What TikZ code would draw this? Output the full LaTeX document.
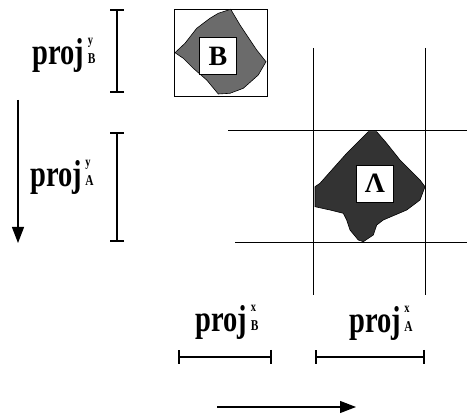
\documentclass[tikz,border=0pt]{standalone}
\usepackage{fontspec}
\setmainfont{Liberation Serif}
\usetikzlibrary{arrows.meta}
\newcommand{\pjlab}[2]{\scalebox{0.95}[1.25]{\bfseries\fontsize{30}{30}\selectfont proj\hspace{0.12em}\rlap{\raisebox{0.52em}{\fontsize{11}{11}\selectfont #1}}\raisebox{0.02em}{\fontsize{12}{12}\selectfont #2}}}
\begin{document}
\begin{tikzpicture}[x=1pt,y=-1pt,
  barline/.style={line width=1.6pt,{Bar[width=14pt,line width=1.6pt]}-{Bar[width=14pt,line width=1.6pt]}},
  gridline/.style={line width=1pt},
  axisarrow/.style={line width=1.2pt,-{Triangle[width=12pt,length=16pt]}},
  lbl/.style={inner sep=0pt},
  idbox/.style={draw,fill=white,line width=0.8pt,minimum size=37pt,inner sep=0pt,font=\bfseries\fontsize{28}{28}\selectfont},
  blob/.style={draw,line width=0.6pt}]
\useasboundingbox (0,0) rectangle (467,419);
% B region
\node[draw,line width=0.8pt,minimum width=93pt,minimum height=87pt,inner sep=0pt] (frameB) at (220.5,52.5) {};
\draw[blob,fill=black!58] (218.3,13.3) -- (230.7,9.3) -- (240,25) -- (250,40) -- (256.7,50) -- (266,61.7) -- (258.3,75) -- (243.3,88.3) -- (230,93.3) -- (218.3,94) -- (206.7,80) -- (193.3,68.3) -- (183.3,58.3) -- (175,52.7) -- (185,43.3) -- (196.7,28.3) -- (210,18.3) -- cycle;
\node[idbox] (boxB) at (218,56) {B};
% grid for A
\coordinate (v1t) at (313,48); \coordinate (v1b) at (313,295);
\coordinate (v2t) at (425,48); \coordinate (v2b) at (425,295);
\coordinate (h1l) at (228,131); \coordinate (h1r) at (467,131);
\coordinate (h2l) at (235,243); \coordinate (h2r) at (467,243);
\draw[gridline] (v1t) -- (v1b);
\draw[gridline] (v2t) -- (v2b);
\draw[gridline] (h1l) -- (h1r);
\draw[gridline] (h2l) -- (h2r);
\draw[blob,fill=black!80] (368.3,131.7) -- (376.7,131.7) -- (386.7,143.3) -- (400,160) -- (420,180) -- (425,186.7) -- (420,200) -- (406.7,210) -- (383.3,220) -- (376.7,225) -- (373.3,235) -- (363.3,241.7) -- (358.3,240) -- (350,230) -- (346.7,220) -- (343.3,213.3) -- (330,210) -- (315,206.7) -- (315,186.7) -- (320,183.3) -- (333.3,168.3) -- (346.7,153.3) -- (360,140) -- cycle;
\node[idbox] (boxA) at (375,183.5) {Λ};
% vertical projections
\coordinate (byt) at (117,9); \coordinate (byb) at (117,93);
\coordinate (ayt) at (117,132); \coordinate (ayb) at (117,242);
\draw[barline] (byt) -- (byb);
\draw[barline] (ayt) -- (ayb);
\node[lbl] (lby) at (64,55) {\pjlab{y}{B}};
\node[lbl] (lay) at (62,177) {\pjlab{y}{A}};
\coordinate (dn1) at (18,100); \coordinate (dn2) at (18,243);
\draw[axisarrow] (dn1) -- (dn2);
% horizontal projections
\coordinate (bxl) at (178,357); \coordinate (bxr) at (272,357);
\coordinate (axl) at (315,357); \coordinate (axr) at (425,357);
\draw[barline] (bxl) -- (bxr);
\draw[barline] (axl) -- (axr);
\node[lbl] (lbx) at (227,322) {\pjlab{x}{B}};
\node[lbl] (lax) at (381,323) {\pjlab{x}{A}};
\coordinate (rt1) at (217,407); \coordinate (rt2) at (356,407);
\draw[axisarrow] (rt1) -- (rt2);
\end{tikzpicture}
\end{document}
